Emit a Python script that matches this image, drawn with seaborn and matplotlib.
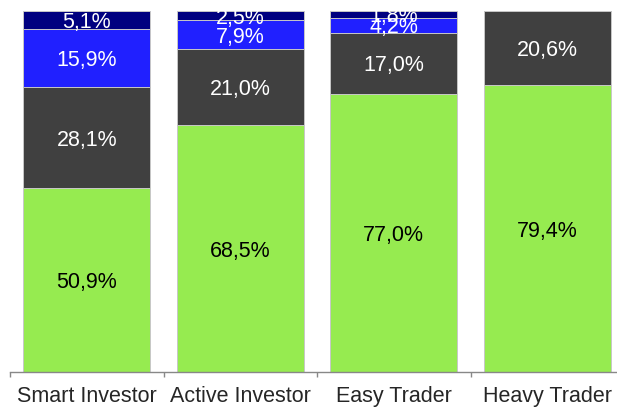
import pandas as pd
import seaborn as sns
import matplotlib.pyplot as plt
import numpy as np

categories = ["Smart Investor", "Active Investor", "Easy Trader", "Heavy Trader"]
seg_green = [50.9, 68.5, 77.0, 79.4]
seg_gray = [28.1, 21.0, 17.0, 20.6]
seg_blue = [15.9, 7.9, 4.2, 0.0]
seg_navy = [5.1, 2.5, 1.8, 0.0]

layers = [seg_green, seg_gray, seg_blue, seg_navy]
colors = ["#96eb50", "#404040", "#2020ff", "#000080"]
text_colors = ["black", "white", "white", "white"]

sns.set_style("white")
plt.rcParams['font.family'] = ['Liberation Sans', 'DejaVu Sans']

fig = plt.figure(figsize=(6.17, 4.09), dpi=100)
ax = fig.add_axes([0.0162, 0.0897, 0.9838, 0.8834])

# cumulative tops, drawn from the top layer down so lower layers cover upper ones
cum = np.cumsum(np.array(layers), axis=0)
for i in range(len(layers) - 1, -1, -1):
    df = pd.DataFrame({"cat": categories, "val": cum[i]})
    sns.barplot(data=df, x="cat", y="val", color=colors[i], saturation=1,
                width=0.827, edgecolor="#c8c8c8", linewidth=0.7, ax=ax)

# segment labels
for i, layer in enumerate(layers):
    for j, v in enumerate(layer):
        if v <= 0:
            continue
        mid = cum[i][j] - v / 2
        ax.text(j, mid, f"{v:.1f}%".replace(".", ","), ha="center", va="center_baseline",
                color=text_colors[i], fontsize=15.5, clip_on=True)

ax.set_xlabel("")
ax.set_ylabel("")
ax.set_yticks([])
ax.set_xticks([-0.5, 0.5, 1.5, 2.5, 3.5])
ax.set_xticklabels([])
ax.set_xticks([0, 1, 2, 3], minor=True)
ax.set_xticklabels(categories, minor=True, fontsize=15.5)
ax.tick_params(axis="x", which="major", length=3.5, width=1, color="#888888", bottom=True)
ax.tick_params(axis="x", which="minor", length=0, pad=10)
ax.set_ylim(0, 100)
ax.set_xlim(-0.5, 3.454)  # last bar sits right at the edge
for s in ["left", "top", "right"]:
    ax.spines[s].set_visible(False)
ax.spines["bottom"].set_color("#888888")
ax.spines["bottom"].set_linewidth(1)

fig.savefig("out.png", dpi=100)
